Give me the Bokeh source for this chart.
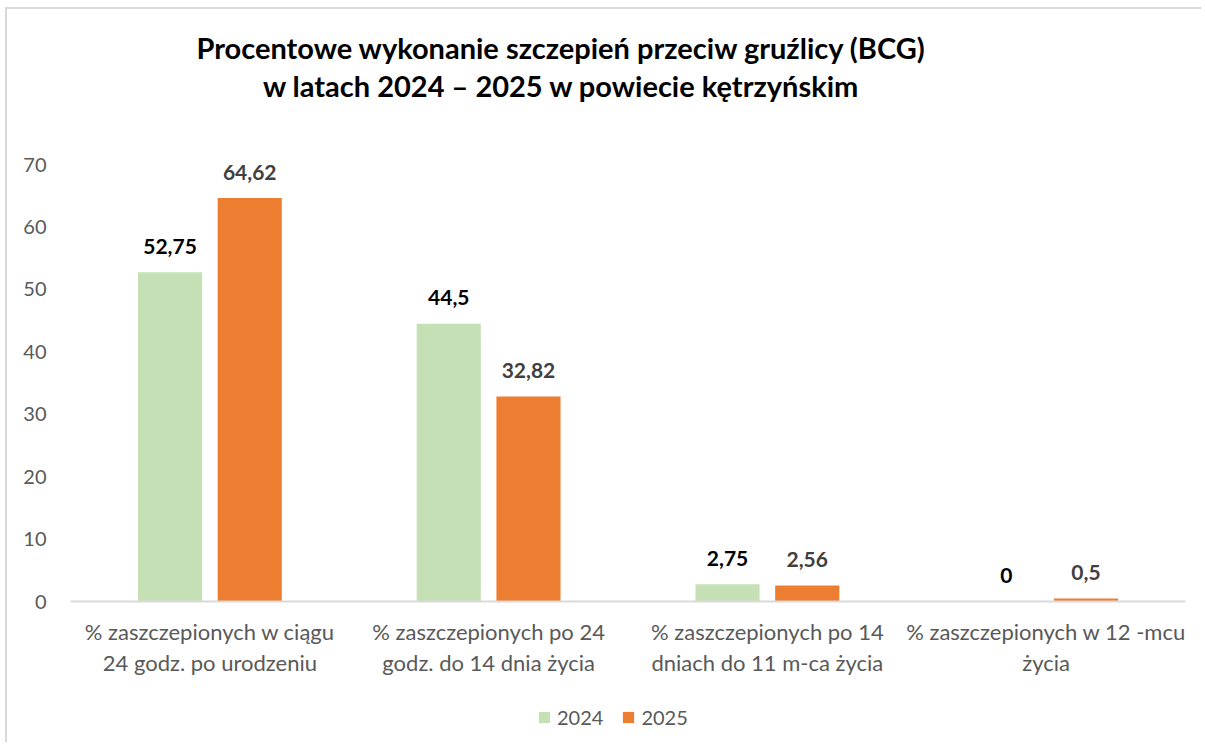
from bokeh.plotting import figure
from bokeh.models import (Range1d, ColumnDataSource, Legend, LegendItem, Label, FixedTicker, Span)
from bokeh.core.properties import value
from bokeh.embed import file_html
from bokeh.resources import INLINE

categories = [
    ["% zaszczepionych w ciągu", "24 godz. po urodzeniu"],
    ["% zaszczepionych po 24", "godz. do 14 dnia życia"],
    ["% zaszczepionych po 14", "dniach do 11 m-ca życia"],
    ["% zaszczepionych w 12 -mcu", "życia"],
]
values_2024 = [52.75, 44.5, 2.75, 0]
values_2025 = [64.62, 32.82, 2.56, 0.5]
series_names = ["2024", "2025"]
y_ticks = [0, 10, 20, 30, 40, 50, 60, 70]
title_lines = ["Procentowe wykonanie szczepień przeciw gruźlicy (BCG)",
               "w latach 2024 – 2025 w powiecie kętrzyńskim"]

FONT = "Lato"
GREEN = "#C5E0B4"
ORANGE = "#ED7D31"

# layout in page pixels
OX, OY = 7, 9            # canvas origin on the page
W, H = 1196, 735
FL, FR, FT, FB = 70, 1185, 12, 740   # frame edges (page px)
ZERO_PY, TOP_PY, YMAX = 601, 164, 70 # pixel rows of 0 and 70
PXU = (ZERO_PY - TOP_PY) / YMAX      # px per y unit
n = len(categories)
PXC = (FR - FL) / n                  # px per category

def ydata(py):
    return (ZERO_PY - py) / PXU

def xdata(px):
    return (px - FL) / PXC

def fmt(v):
    return ("{:g}".format(v)).replace(".", ",")

centers = [i + 0.5 for i in range(n)]
off = 0.143
src = ColumnDataSource(dict(
    x24=[c - off for c in centers],
    x25=[c + off for c in centers],
    v24=values_2024,
    v25=values_2025,
    l24=[fmt(v) for v in values_2024],
    l25=[fmt(v) for v in values_2025],
))

p = figure(x_range=Range1d(0, n), y_range=Range1d(ydata(FB), ydata(FT)),
           width=W, height=H, output_backend="svg", toolbar_location=None,
           min_border_left=FL - OX, min_border_right=OX + W - FR,
           min_border_top=FT - OY, min_border_bottom=OY + H - FB)

r24 = p.vbar(x="x24", top="v24", width=0.23, source=src, fill_color=GREEN, line_color=None)
r25 = p.vbar(x="x25", top="v25", width=0.23, source=src, fill_color=ORANGE, line_color=None)

p.add_layout(Span(location=0, dimension="width", line_color="#D9D9D9", line_width=2))

p.text(x="x24", y="v24", text="l24", source=src,
       text_font=value(FONT), text_font_style="bold", text_font_size="21px",
       text_color="#000000", text_align="center", text_baseline="alphabetic", y_offset=-26)
p.text(x="x25", y="v25", text="l25", source=src,
       text_font=value(FONT), text_font_style="bold", text_font_size="21px",
       text_color="#404040", text_align="center", text_baseline="alphabetic", y_offset=-26)

p.xgrid.visible = False
p.ygrid.visible = False
p.outline_line_color = None
p.xaxis.visible = False

p.yaxis.ticker = FixedTicker(ticks=y_ticks)
p.yaxis.axis_line_color = None
p.yaxis.major_tick_line_color = None
p.yaxis.minor_tick_line_color = None
p.yaxis.major_label_text_font = FONT
p.yaxis.major_label_text_font_size = "20px"
p.yaxis.major_label_text_color = "#595959"
p.yaxis.major_label_standoff = 18

# category labels below the baseline
for c, lines in zip(centers, categories):
    for j, t in enumerate(lines):
        p.add_layout(Label(x=c, y=ydata(631 + j * 31), text=t, text_font=FONT,
                           text_font_size="22px", text_color="#595959",
                           text_align="center", text_baseline="alphabetic"))

# title
for i, t in enumerate(title_lines):
    p.add_layout(Label(x=xdata(561), y=ydata(47 + i * 38),
                       text=t, text_font=FONT, text_font_style="bold", text_font_size="29px",
                       text_color="#000000", text_align="center", text_baseline="alphabetic"))

legend = Legend(items=[LegendItem(label=series_names[0], renderers=[r24]),
                       LegendItem(label=series_names[1], renderers=[r25])],
                orientation="horizontal", location=(537 - FL, FB - 729),
                label_text_font=FONT, label_text_font_size="20px",
                label_text_color="#595959", glyph_width=14, glyph_height=14,
                spacing=18, label_standoff=6, border_line_color=None,
                background_fill_alpha=0, padding=0, margin=0)
p.add_layout(legend, "center")

p.styles = {"border-left": "2px solid #D9D9D9", "border-top": "2px solid #D9D9D9",
            "margin-left": "5px", "margin-top": "7px"}

open("out.html", "w").write(file_html(p, INLINE))
